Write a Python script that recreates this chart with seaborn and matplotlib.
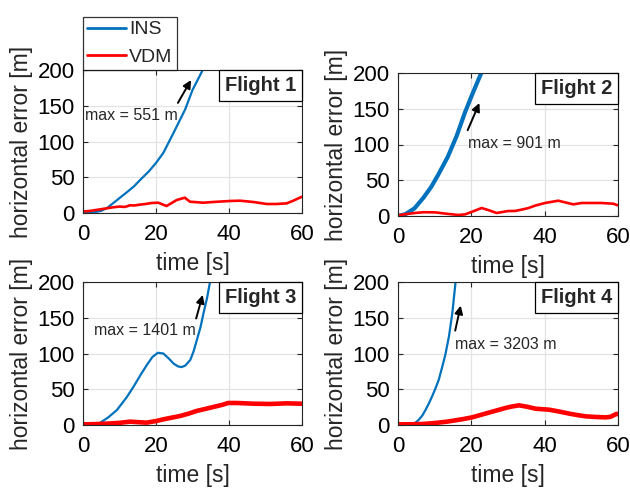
import matplotlib
matplotlib.use("Agg")
import matplotlib.pyplot as plt
import seaborn as sns
import numpy as np
from matplotlib.offsetbox import AnchoredText

# ---------------- data ----------------
x_ticks = [0, 20, 40, 60]
y_ticks = [0, 50, 100, 150, 200]
flight_labels = ["Flight 1", "Flight 2", "Flight 3", "Flight 4"]
max_labels = ["max = 551 m", "max = 901 m", "max = 1401 m", "max = 3203 m"]

ins1_t = [0, 3, 5, 6.6, 9.3, 12, 13.9, 16, 18, 20, 22, 24.8, 28, 30, 32.8, 40, 60]
ins1_v = [0, 1, 3, 7, 18, 29, 37, 48, 58, 70, 84, 112, 145, 172, 200, 300, 551]
vdm1_t = [0, 2, 4.7, 8.3, 10, 11.5, 12.9, 14, 15.6, 17, 18.8, 20.6, 22.9, 25.7, 27.9, 29.3,
          32.9, 35.7, 40.3, 43, 46.7, 50.3, 53, 55.8, 57.6, 60]
vdm1_v = [2, 3, 5.1, 8, 9, 8.5, 10.8, 10.5, 11.7, 12.5, 14, 14.4, 9.8, 18.2, 21.4, 15.8,
          14.4, 15.4, 16.8, 17.2, 15.4, 12.6, 12.6, 13.5, 17.2, 22.8]

ins2_t = [0, 2, 4.5, 7, 9.1, 11, 13.6, 16, 18.2, 20, 22.7, 30, 40, 60]
ins2_v = [0, 2.5, 10.7, 26, 41, 58, 83, 112, 144, 167, 200, 320, 530, 901]
vdm2_t = [0, 2, 4.6, 7, 10.1, 13, 16.5, 18.3, 20.5, 22.8, 24.8, 26.9, 30.1, 31.9, 33.7, 35.5,
          37.4, 40.1, 43.7, 47.8, 50.1, 55.5, 58.7, 60]
vdm2_v = [0.9, 2.5, 4.2, 5.3, 5.1, 3.3, 1.4, 2.3, 6.5, 11.2, 8, 4.2, 7, 7, 8.9, 11,
          14.5, 18.2, 21.4, 16.3, 18.2, 18.2, 17.2, 14.9]

ins3_t = [0, 2.8, 4.7, 7, 9.3, 12, 13.9, 16, 17.5, 19, 20.5, 22, 23.5, 24.8, 26, 27, 28,
          29.4, 30.3, 31.2, 32.2, 33, 34, 34.8, 40, 60]
ins3_v = [0, 0, 3, 11, 21, 39, 54, 72, 84, 95, 101, 100, 93, 86, 82, 81, 83,
          91, 103, 119, 137, 156, 178, 200, 420, 1401]
vdm3_t = [0, 3, 6.5, 10, 12.9, 15, 17.4, 20, 22, 24, 26.6, 29, 31.1, 33.5, 35.7, 38, 39.8,
          42.1, 46.7, 51.3, 55.8, 59.6, 60]
vdm3_v = [0.9, 1.2, 1.9, 3, 4.7, 4, 3.3, 5.5, 7.9, 10, 12.6, 16, 19.6, 22.5, 25.2, 28, 30.8,
          30.8, 29.8, 29.4, 30.3, 29.8, 29.8]

ins4_t = [0, 3.7, 4.6, 5.6, 6.6, 7.5, 8.4, 9.3, 10.2, 11.1, 12, 12.9, 13.9, 14.8, 15.7, 20, 60]
ins4_v = [0, 0, 2.5, 7, 13, 21, 30, 40, 51, 63, 80, 98, 124, 156, 200, 380, 3203]
vdm4_t = [0, 3, 6.5, 9, 11, 13.5, 15.6, 18, 20.2, 22.5, 24.7, 27, 29.3, 31, 33, 35.2, 37.5,
          41.2, 44, 46.7, 49, 51.2, 54, 56.7, 58, 59.5, 60]
vdm4_v = [0.9, 1, 1.4, 2.3, 3.3, 4.8, 6.5, 8.5, 10.7, 14, 17.2, 20.5, 23.8, 25.8, 27.5, 25.5, 22.8,
          21.4, 18.8, 15.9, 13.8, 12.1, 11.2, 10.7, 11.5, 15.4, 15.4]

# annotation positions (data units): text (x, y), arrow tail, arrow head
ann_text = [(0.6, 137), (19, 102), (3, 132), (15.6, 113)]
ann_tail = [(26, 154), (19, 120), (31, 149), (15.6, 132)]
ann_head = [(29.6, 186), (22.2, 158), (32.8, 182), (17.1, 167)]

ins_t = [ins1_t, ins2_t, ins3_t, ins4_t]
ins_v = [ins1_v, ins2_v, ins3_v, ins4_v]
vdm_t = [vdm1_t, vdm2_t, vdm3_t, vdm4_t]
vdm_v = [vdm1_v, vdm2_v, vdm3_v, vdm4_v]

# ---------------- style ----------------
sns.set_theme(style="ticks")
plt.rcParams['font.family'] = ['Liberation Sans', 'DejaVu Sans']

BLUE = "#0072BD"
RED = "#FF0000"
ins_lw = [1.6, 3.0, 1.6, 1.6]
vdm_lw = [1.9, 1.9, 3.3, 3.3]

fig = plt.figure(figsize=(6.3, 4.88), dpi=100)
W, H = 630.0, 488.0
# pixel boxes: left, top, right, bottom
boxes = [(83, 70, 302, 213), (398, 73, 618, 216), (83, 282, 302, 425), (398, 282, 618, 425)]
axes = []
for (l, t, r, b) in boxes:
    ax = fig.add_axes([l / W, 1 - b / H, (r - l) / W, (b - t) / H])
    axes.append(ax)

for i, ax in enumerate(axes):
    sns.lineplot(x=ins_t[i], y=ins_v[i], ax=ax, color=BLUE, lw=ins_lw[i], label="INS",
                 legend=False, sort=False, estimator=None)
    sns.lineplot(x=vdm_t[i], y=vdm_v[i], ax=ax, color=RED, lw=vdm_lw[i], label="VDM",
                 legend=False, sort=False, estimator=None)
    ax.set_xlim(0, 60)
    ax.set_ylim(0, 200)
    ax.set_xticks(x_ticks)
    ax.set_yticks(y_ticks)
    ax.grid(True, color="#e3e3e3", lw=0.9)
    ax.set_axisbelow(True)
    for s in ax.spines.values():
        s.set_color("#262626")
        s.set_linewidth(0.8)
        s.set_visible(True)
    ax.tick_params(direction="in", length=3.5, width=0.8, top=True, right=True,
                   labelsize=16, colors="#262626", labelcolor="black")
    ax.tick_params(axis="y", pad=6)
    ax.tick_params(axis="x", pad=8)
    ax.set_xlabel("time [s]", fontsize=16.5, labelpad=5)
    ax.set_ylabel("horizontal error [m]", fontsize=16.5, labelpad=3)

    at = AnchoredText(flight_labels[i], loc="upper right", frameon=True, borderpad=0.0,
                      pad=0.3, prop=dict(size=14.5, weight="bold"))
    at.patch.set_edgecolor("black")
    at.patch.set_linewidth(0.9)
    at.patch.set_boxstyle("square,pad=0")
    ax.add_artist(at)

    ax.text(ann_text[i][0], ann_text[i][1], max_labels[i], fontsize=11.5, ha="left", va="center")
    ax.annotate("", xy=ann_head[i], xytext=ann_tail[i],
                arrowprops=dict(arrowstyle="-|>", color="black", lw=1.4, mutation_scale=12,
                                shrinkA=0, shrinkB=0))

# legend above panel 1
h, lab = axes[0].get_legend_handles_labels()
leg = axes[0].legend(h, lab, loc="lower left", bbox_to_anchor=(0, 1), fontsize=14,
                     frameon=True, fancybox=False, borderaxespad=0, handlelength=2.0,
                     handletextpad=0.15, borderpad=0.22, labelspacing=0.5)
leg.get_frame().set_edgecolor("black")
leg.get_frame().set_linewidth(0.9)
for line in leg.get_lines():
    line.set_linewidth(2.0)

fig.savefig("out.png", dpi=100)
